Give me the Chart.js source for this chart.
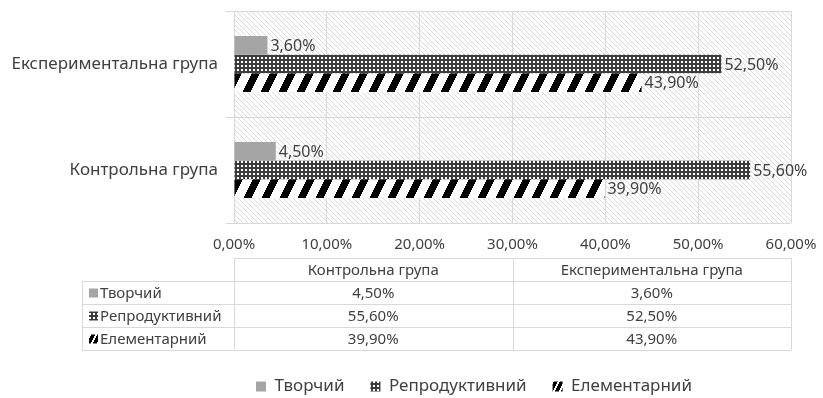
<!DOCTYPE html>
<html>
<head>
<meta charset="utf-8">
<script src="https://cdn.jsdelivr.net/npm/chart.js@4.4.1/dist/chart.umd.min.js"></script>
<style>
  html, body { margin: 0; padding: 0; background: #fff; }
  #wrap { width: 823px; height: 398px; }
</style>
</head>
<body>
<div id="wrap"><canvas id="levels"></canvas></div>
<script>
// groups (Excel order: first one sits at the bottom)
const groups = ['Контрольна група', 'Експериментальна група'];
const levelNames = ['Творчий', 'Репродуктивний', 'Елементарний'];
// percentages per group
const creative = [4.5, 3.6];
const reproductive = [55.6, 52.5];
const elementary = [39.9, 43.9];
const xMax = 60;
const xStep = 10;

const FONT = '"Noto Sans", "Open Sans", sans-serif';
const TEXT = '#404040';
const GRID = '#d9d9d9';

Chart.defaults.font.family = FONT;
Chart.defaults.font.size = 15;
Chart.defaults.color = TEXT;

const fmt = v => v.toFixed(2).replace('.', ',') + '%';

// small tiles used as fills
function tile(w, h, paint) {
    const c = document.createElement('canvas');
    c.width = w; c.height = h;
    const g = c.getContext('2d');
    paint(g, w, h);
    return g.createPattern(c, 'repeat');
}

function slanted(period, black) {
    return tile(period, period * 2, (g, w, h) => {
        g.fillStyle = '#ffffff';
        g.fillRect(0, 0, w, h);
        g.fillStyle = '#000000';
        for (let y = 0; y < h; y++) {
            for (let x = 0; x < w; x++) {
                if ((x + Math.floor(y * 0.5)) % period < black) g.fillRect(x, y, 1, 1);
            }
        }
    });
}

const checker = tile(4, 4, (g) => {
    g.fillStyle = '#3c3c3c';
    g.fillRect(0, 0, 4, 4);
    g.fillStyle = '#ffffff';
    g.fillRect(1, 1, 2, 2);
});

const stripes = slanted(18, 8);
const stripesSmall = slanted(6, 4);

const hatch = tile(5, 5, (g, w, h) => {
    g.fillStyle = '#ffffff';
    g.fillRect(0, 0, w, h);
    g.fillStyle = '#dadada';
    for (let i = 0; i < 5; i++) g.fillRect(i, i, 1, 1);
});

const fills = ['#a5a5a5', checker, stripes];
const swatches = ['#a5a5a5', checker, stripesSmall];

// hatched plot background
const plotBackground = {
    id: 'plotBackground',
    beforeDraw(chart) {
        const {ctx, chartArea: a} = chart;
        ctx.save();
        ctx.fillStyle = hatch;
        ctx.fillRect(a.left, a.top, a.right - a.left, a.bottom - a.top);
        ctx.restore();
    }
};

// legend sits low and a bit left of the page centre
const legendPlace = {
    id: 'legendPlace',
    afterLayout(chart) {
        const lg = chart.legend;
        const pad = lg.options.labels.padding;
        const dy = 386 - (lg.top + pad + 8);
        lg.top += dy; lg.bottom += dy;
        const dx = 474 - (lg.left + lg.right) / 2;
        lg.left += dx; lg.right += dx;
    }
};

// value at the end of every bar
const valueLabels = {
    id: 'valueLabels',
    afterDatasetsDraw(chart) {
        const ctx = chart.ctx;
        ctx.save();
        ctx.font = '16px ' + FONT;
        ctx.fillStyle = TEXT;
        ctx.textAlign = 'left';
        ctx.textBaseline = 'middle';
        chart.data.datasets.forEach((ds, i) => {
            chart.getDatasetMeta(i).data.forEach((bar, j) => {
                ctx.fillText(fmt(ds.data[j]), bar.x + 3, bar.y + 1);
            });
        });
        ctx.restore();
    }
};

// data table under the x axis
const dataTable = {
    id: 'dataTable',
    afterDraw(chart) {
        const {ctx, chartArea: a} = chart;
        const top = Math.round(a.bottom) + 35;
        const rowH = 23;
        const left = 82;
        const colW = (a.right - a.left) / groups.length;
        const rows = chart.data.datasets;
        const bottom = top + rowH * (rows.length + 1);

        ctx.save();
        ctx.strokeStyle = GRID;
        ctx.lineWidth = 1;
        ctx.beginPath();
        // horizontal rules
        ctx.moveTo(a.left, top + 0.5); ctx.lineTo(a.right, top + 0.5);
        for (let r = 1; r <= rows.length + 1; r++) {
            const y = top + r * rowH + 0.5;
            ctx.moveTo(left, y); ctx.lineTo(a.right, y);
        }
        // vertical rules
        ctx.moveTo(left + 0.5, top + rowH); ctx.lineTo(left + 0.5, bottom);
        for (let c = 0; c <= groups.length; c++) {
            const x = Math.round(a.left + c * colW) + 0.5;
            ctx.moveTo(x, top); ctx.lineTo(x, bottom);
        }
        ctx.stroke();

        ctx.font = '15px ' + FONT;
        ctx.fillStyle = TEXT;
        ctx.textBaseline = 'middle';
        ctx.textAlign = 'center';
        groups.forEach((g, c) => {
            ctx.fillText(g, a.left + (c + 0.5) * colW, top + rowH / 2 + 1);
        });
        rows.forEach((ds, r) => {
            const cy = top + (r + 1.5) * rowH + 1;
            ctx.fillStyle = swatches[r];
            ctx.fillRect(left + 7, cy - 5, 9, 9);
            ctx.fillStyle = TEXT;
            ctx.textAlign = 'left';
            ctx.fillText(ds.label, left + 18, cy);
            ctx.textAlign = 'center';
            ds.data.forEach((v, c) => {
                ctx.fillText(fmt(v), a.left + (c + 0.5) * colW, cy);
            });
        });
        ctx.restore();
    }
};

new Chart(document.getElementById('levels'), {
    type: 'bar',
    data: {
        labels: groups,
        datasets: [
            { label: levelNames[0], data: creative, backgroundColor: fills[0] },
            { label: levelNames[1], data: reproductive, backgroundColor: fills[1] },
            { label: levelNames[2], data: elementary, backgroundColor: fills[2] }
        ]
    },
    options: {
        indexAxis: 'y',
        responsive: true,
        maintainAspectRatio: false,
        animation: false,
        datasets: {
            bar: { categoryPercentage: 0.53, barPercentage: 1.0, borderWidth: 0 }
        },
        layout: { padding: { top: 11, right: 32, left: 0, bottom: 0 } },
        scales: {
            x: {
                min: 0,
                max: xMax,
                ticks: {
                    stepSize: xStep,
                    padding: 13,
                    color: TEXT,
                    font: { size: 15 },
                    callback: v => fmt(v)
                },
                grid: { color: GRID, drawTicks: false },
                border: { display: false },
                afterFit: s => {
                    s.height = 122;
                    s.paddingLeft = 0; s.paddingRight = 0;
                }
            },
            y: {
                reverse: true,
                ticks: { padding: 8, color: TEXT, font: { size: 17 } },
                grid: { color: GRID, tickLength: 8 },
                border: { color: GRID },
                afterFit: s => {
                    s.width = 234;
                    s.paddingTop = 0; s.paddingBottom = 0;
                }
            }
        },
        plugins: {
            legend: {
                position: 'bottom',
                labels: {
                    boxWidth: 10, boxHeight: 10, padding: 26, color: TEXT, font: { size: 17 },
                    generateLabels: chart => Chart.defaults.plugins.legend.labels.generateLabels(chart)
                        .map((item, i) => Object.assign(item, { fillStyle: swatches[i], lineWidth: 0 }))
                }
            },
            tooltip: { enabled: false }
        }
    },
    plugins: [plotBackground, legendPlace, valueLabels, dataTable]
});
</script>
</body>
</html>
